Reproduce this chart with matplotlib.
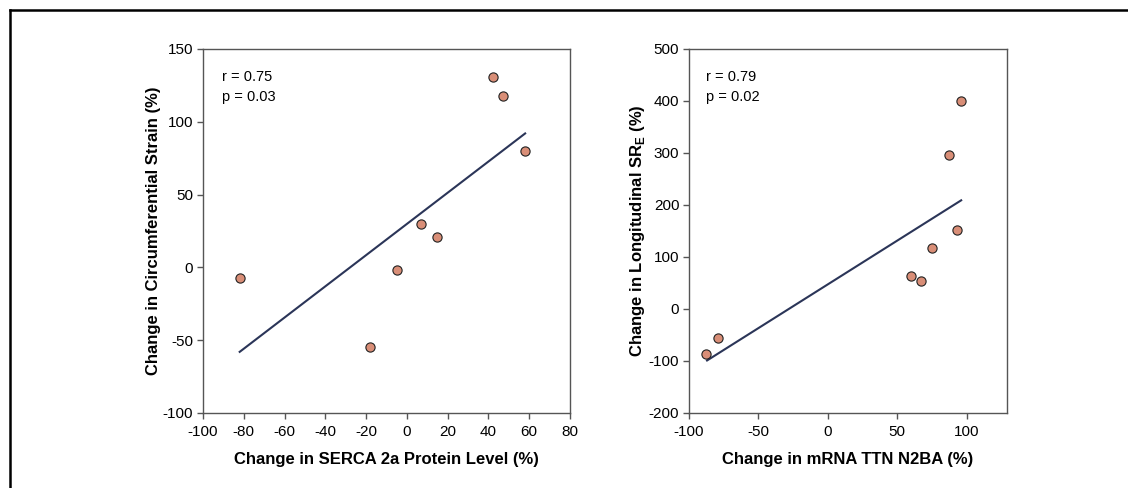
import matplotlib
matplotlib.use("Agg")
import matplotlib.pyplot as plt
from matplotlib.lines import Line2D

plt.rcParams['font.family'] = ['Liberation Sans', 'DejaVu Sans']
plt.rcParams['mathtext.fontset'] = 'custom'
plt.rcParams['mathtext.rm'] = 'Liberation Sans'
plt.rcParams['mathtext.bf'] = 'Liberation Sans:bold'
plt.rcParams['axes.unicode_minus'] = False

# Left panel data
serca_x = [-82, -18, -5, 7, 15, 42, 47, 58]
circ_y = [-7, -55, -2, 30, 21, 131, 118, 80]
fit1_x = [-82, 58]
fit1_y = [-58, 92]

# Right panel data
ttn_x = [-88, -79, 60, 67, 75, 87, 93, 96]
long_y = [-86, -55, 64, 54, 117, 297, 151, 400]
fit2_x = [-87, 96]
fit2_y = [-99, 209]

xt1 = [-100, -80, -60, -40, -20, 0, 20, 40, 60, 80]
yt1 = [-100, -50, 0, 50, 100, 150]
xt2 = [-100, -50, 0, 50, 100]
yt2 = [-200, -100, 0, 100, 200, 300, 400, 500]

W, H = 1128, 488
fig = plt.figure(figsize=(W/100, H/100), dpi=100)

def px_axes(l, r, t, b):
    return fig.add_axes([l/W, 1-b/H, (r-l)/W, (b-t)/H])

ax1 = px_axes(203, 570, 49, 413)
ax2 = px_axes(689, 1007, 49, 413)

pt_color = '#D98E77'
line_color = '#2B3558'
spine_color = '#555555'

def style(ax):
    for s in ax.spines.values():
        s.set_color(spine_color)
        s.set_linewidth(1.0)
    ax.tick_params(direction='out', length=4, width=1, color=spine_color,
                   labelsize=11, pad=3)
    ax.tick_params(axis='x', pad=5)

ax1.plot(fit1_x, fit1_y, color=line_color, lw=1.5, zorder=2)
ax1.scatter(serca_x, circ_y, s=44, facecolor=pt_color, edgecolor='#222222', linewidth=0.8, zorder=3)
ax1.set_xlim(-100, 80)
ax1.set_ylim(-100, 150)
ax1.set_xticks(xt1)
ax1.set_yticks(yt1)
ax1.set_xlabel('Change in SERCA 2a Protein Level (%)', fontsize=12, fontweight='bold', labelpad=9)
ax1.set_ylabel('Change in Circumferential Strain (%)', fontsize=12, fontweight='bold', labelpad=1)
ax1.text(0.052, 0.923, 'r = 0.75', transform=ax1.transAxes, fontsize=10.5, va='center')
ax1.text(0.052, 0.868, 'p = 0.03', transform=ax1.transAxes, fontsize=10.5, va='center')
style(ax1)

ax2.plot(fit2_x, fit2_y, color=line_color, lw=1.5, zorder=2)
ax2.scatter(ttn_x, long_y, s=44, facecolor=pt_color, edgecolor='#222222', linewidth=0.8, zorder=3)
ax2.set_xlim(-100, 129)
ax2.set_ylim(-200, 500)
ax2.set_xticks(xt2)
ax2.set_yticks(yt2)
ax2.set_xlabel('Change in mRNA TTN N2BA (%)', fontsize=12, fontweight='bold', labelpad=9)
ax2.set_ylabel(r'Change in Longitudinal SR$_{\mathbf{E}}$ (%)', fontsize=12, fontweight='bold', labelpad=1)
ax2.text(0.055, 0.923, 'r = 0.79', transform=ax2.transAxes, fontsize=10.5, va='center')
ax2.text(0.055, 0.868, 'p = 0.02', transform=ax2.transAxes, fontsize=10.5, va='center')
style(ax2)

# outer frame lines (top and left)
fig.add_artist(Line2D([9.5/W, 1], [1-9.5/H, 1-9.5/H], transform=fig.transFigure, color='black', lw=1.8))
fig.add_artist(Line2D([9.5/W, 9.5/W], [0, 1-9.5/H], transform=fig.transFigure, color='black', lw=1.8))

fig.savefig('out.png', dpi=100)
